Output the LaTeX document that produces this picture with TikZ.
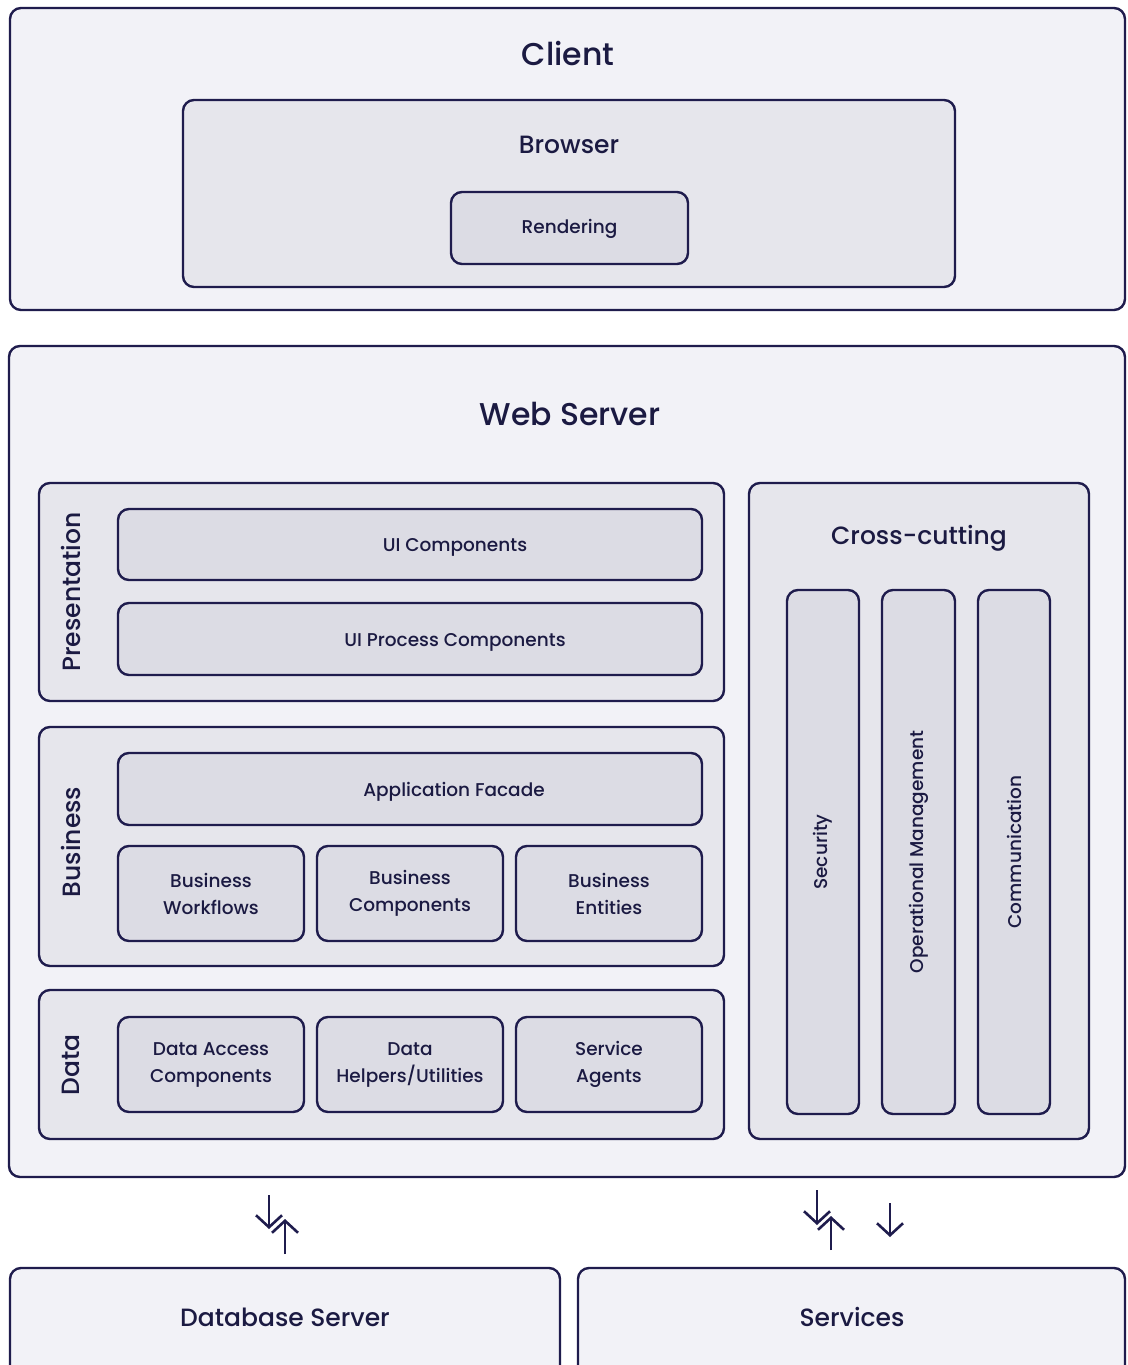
\documentclass[tikz,border=0pt]{standalone}
\usepackage{fontspec}
\IfFontExistsTF{Poppins Medium}{\setmainfont{Poppins Medium}}{\setmainfont{Poppins}[FakeBold=0.6]}
\usetikzlibrary{arrows.meta}
\definecolor{strk}{HTML}{1F1C4D}
\definecolor{txt}{HTML}{1B1A42}
\definecolor{fa}{HTML}{F2F2F7}
\definecolor{fb}{HTML}{E6E6EC}
\definecolor{fc}{HTML}{DCDCE4}
\tikzset{
  base/.style={draw=strk, line width=2.4pt, rounded corners=11pt, inner sep=0pt, text=txt, align=center},
  outerbox/.style={base, fill=fa},
  midbox/.style={base, fill=fb},
  innerbox/.style={base, fill=fc, font=\fontsize{18.5}{27}\selectfont},
  title/.style={text=txt, inner sep=0pt, align=center},
  smalltxt/.style={title, font=\fontsize{18.5}{27}\selectfont},
  bigtitle/.style={title, font=\fontsize{31.5}{36}\selectfont},
  medtitle/.style={title, font=\fontsize{25}{30}\selectfont},
  arr/.style={draw=strk, line width=2.6pt, -{Straight Barb[length=12pt,width=26pt,line width=2.6pt]}},
}
\begin{document}
\begin{tikzpicture}[x=1pt,y=-1pt]
\useasboundingbox (0,0) rectangle (1127,1365);
\clip (0,0) rectangle (1127,1365);
\fill[white] (0,0) rectangle (1127,1365);

% Client
\node[outerbox, minimum width=1115pt, minimum height=302pt] (client) at (567.5,159) {};
\node[bigtitle] (clientlbl) at (568,54) {Client};
\node[midbox, minimum width=772pt, minimum height=187pt] (browser) at (569,193.5) {};
\node[medtitle] (browserlbl) at (569,145) {Browser};
\node[innerbox, minimum width=237pt, minimum height=72pt] (rendering) at (569.5,228) {};
\node[smalltxt] (renderinglbl) at (569.5,229) {Rendering};

% Web Server
\node[outerbox, minimum width=1116pt, minimum height=831pt] (ws) at (567,761.5) {};
\node[bigtitle] (wslbl) at (570,414) {Web Server};

% Presentation
\node[midbox, minimum width=685pt, minimum height=218pt] (pres) at (381.5,592) {};
\node[medtitle, rotate=90] (preslbl) at (71,592) {Presentation};
\node[innerbox, minimum width=584pt, minimum height=71pt] (uic) at (410,544.5) {};
\node[smalltxt] (uiclbl) at (455,547) {UI Components};
\node[innerbox, minimum width=584pt, minimum height=72pt] (uipc) at (410,639) {};
\node[smalltxt] (uipclbl) at (455,642) {UI Process Components};

% Business
\node[midbox, minimum width=685pt, minimum height=239pt] (bus) at (381.5,846.5) {};
\node[medtitle, rotate=90] (buslbl) at (71,842) {Business};
\node[innerbox, minimum width=584pt, minimum height=72pt] (appf) at (410,789) {};
\node[smalltxt] (appflbl) at (454,792) {Application Facade};
\node[innerbox, minimum width=186pt, minimum height=95pt] (bw) at (211,893.5) {Business\\Workflows};
\node[innerbox, minimum width=186pt, minimum height=95pt] (bc) at (410,893.5) {Business\\Components};
\node[innerbox, minimum width=186pt, minimum height=95pt] (be) at (609,893.5) {Business\\Entities};

% Data
\node[midbox, minimum width=685pt, minimum height=149pt] (data) at (381.5,1064.5) {};
\node[medtitle, rotate=90] (datalbl) at (71,1065) {Data};
\node[innerbox, minimum width=186pt, minimum height=95pt] (dac) at (211,1064.5) {Data Access\\Components};
\node[innerbox, minimum width=186pt, minimum height=95pt] (dhu) at (410,1064.5) {Data\\Helpers/Utilities};
\node[innerbox, minimum width=186pt, minimum height=95pt] (sa) at (609,1064.5) {Service\\Agents};

% Cross-cutting
\node[midbox, minimum width=340pt, minimum height=656pt] (cross) at (919,811) {};
\node[medtitle] (crosslbl) at (919,538) {Cross-cutting};
\node[innerbox, minimum width=72pt, minimum height=524pt] (sec) at (823,852) {};
\node[smalltxt, rotate=90] (seclbl) at (sec.center) {Security};
\node[innerbox, minimum width=73pt, minimum height=524pt] (opm) at (918.5,852) {};
\node[smalltxt, rotate=90] (opmlbl) at (opm.center) {Operational Management};
\node[innerbox, minimum width=72pt, minimum height=524pt] (com) at (1014,852) {};
\node[smalltxt, rotate=90] (comlbl) at (com.center) {Communication};

% Bottom servers
\node[outerbox, minimum width=550pt, minimum height=120pt] (dbs) at (285,1328) {};
\node[medtitle] (dbslbl) at (285,1317) {Database Server};
\node[outerbox, minimum width=547pt, minimum height=120pt] (svc) at (851.5,1328) {};
\node[medtitle] (svclbl) at (852,1317) {Services};

% Arrows
\coordinate (a1s) at (269,1195);
\coordinate (a1e) at (269,1229);
\coordinate (a2s) at (285,1254);
\coordinate (a2e) at (285,1219);
\coordinate (a3s) at (817,1190);
\coordinate (a3e) at (817,1225);
\coordinate (a4s) at (831,1250);
\coordinate (a4e) at (831,1216);
\coordinate (a5s) at (890,1203);
\coordinate (a5e) at (890,1237);
\draw[arr] (a1s) -- (a1e);
\draw[arr] (a2s) -- (a2e);
\draw[arr] (a3s) -- (a3e);
\draw[arr] (a4s) -- (a4e);
\draw[arr] (a5s) -- (a5e);
\end{tikzpicture}
\end{document}
